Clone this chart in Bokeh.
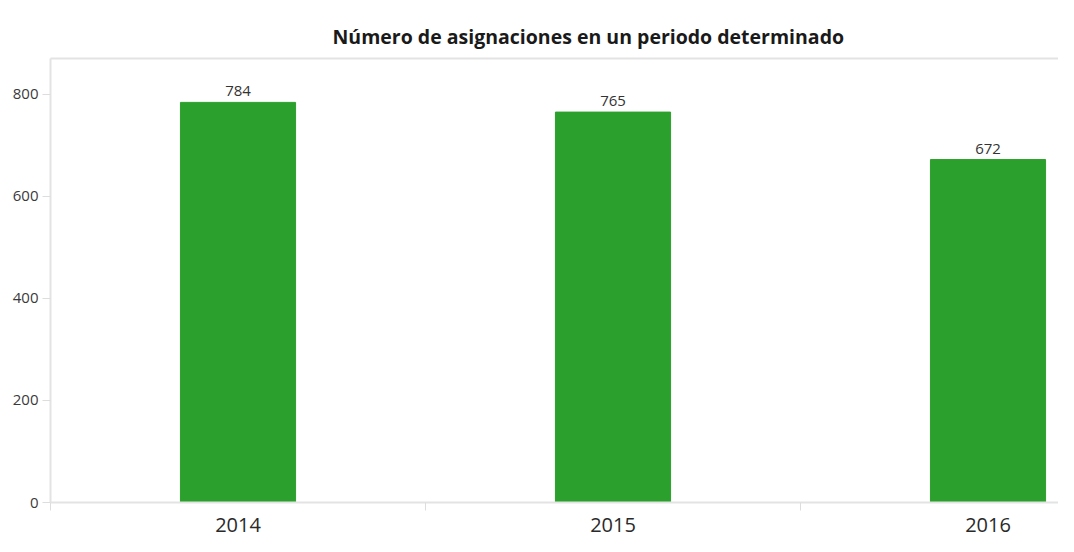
from bokeh.plotting import figure
from bokeh.models import ColumnDataSource, Range1d, FixedTicker, LinearAxis, Title
from bokeh.core.properties import value
from bokeh.embed import file_html
from bokeh.resources import INLINE

years = ["2014", "2015", "2016"]
counts = [784, 765, 672]
y_ticks = [0, 200, 400, 600, 800]

xpos = [i + 0.5 for i in range(len(years))]
src = ColumnDataSource(dict(x=xpos, top=counts, lab=[str(c) for c in counts]))

p = figure(width=1058, height=536, output_backend="svg", toolbar_location=None,
           x_range=Range1d(0, 1008 / 375), y_range=Range1d(0, 870),
           min_border_left=50, min_border_right=0, min_border_top=58, min_border_bottom=34)

p.title = Title(text="Número de asignaciones en un periodo determinado", align="left",
                offset=282, text_font="Open Sans", text_font_size="19.5px",
                text_font_style="bold", text_color="#1a1a1a", standoff=17)

p.vbar(x="x", top="top", width=0.307, source=src, color="#2ca02c")
p.text(x="x", y="top", text="lab", source=src, text_align="center", text_baseline="bottom",
       y_offset=-6, text_font=value("Open Sans"), text_font_size="15px", text_color="#333333")

p.xgrid.visible = False
p.ygrid.visible = False
p.outline_line_color = None
p.background_fill_color = "white"
p.border_fill_color = "white"

xa = p.xaxis[0]
xa.ticker = FixedTicker(ticks=xpos, minor_ticks=[0, 1, 2, 3])
xa.major_label_overrides = {x: y for x, y in zip(xpos, years)}
xa.major_tick_out = 0
xa.major_tick_in = 0
xa.minor_tick_out = 8
xa.minor_tick_in = 0
xa.minor_tick_line_color = "#dddddd"
xa.axis_line_color = "#e3e3e3"
xa.axis_line_width = 2
xa.major_label_standoff = 7
xa.major_label_text_font = "Open Sans"
xa.major_label_text_font_size = "20px"
xa.major_label_text_color = "#2a2a2a"

ya = p.yaxis[0]
ya.ticker = FixedTicker(ticks=y_ticks)
ya.minor_tick_line_color = None
ya.major_tick_in = 0
ya.major_tick_out = 8
ya.major_tick_line_color = "#dddddd"
ya.axis_line_color = "#e3e3e3"
ya.axis_line_width = 2
ya.major_label_standoff = 4
ya.major_label_text_font = "Open Sans"
ya.major_label_text_font_size = "15px"
ya.major_label_text_color = "#3a3a3a"

top_axis = LinearAxis(axis_line_color="#e3e3e3", axis_line_width=2,
                      major_tick_line_color=None, minor_tick_line_color=None,
                      major_label_text_font_size="0px", major_label_standoff=0,
                      ticker=FixedTicker(ticks=[]))
p.add_layout(top_axis, "above")

open("out.html", "w").write(file_html(p, INLINE))
